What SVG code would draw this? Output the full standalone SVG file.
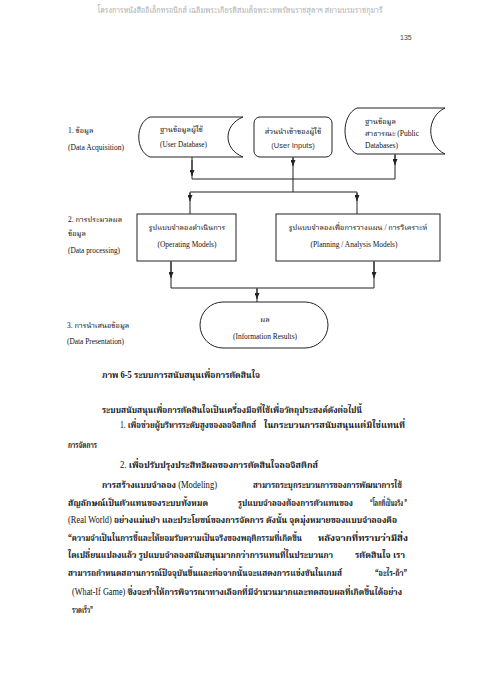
<svg xmlns="http://www.w3.org/2000/svg" width="480" height="679" viewBox="0 0 480 679" xml:space="preserve">
<style>
.s{fill:none;stroke:#222;stroke-width:1}
.t{font-family:"Liberation Serif","Noto Serif Thai","Noto Sans Thai",serif;fill:#111}
.d{font-size:7.5px}
.b{font-size:9.5px;font-weight:bold}
.n{font-weight:normal}
.c{text-anchor:middle}
.a{font-family:"Liberation Sans",sans-serif}
</style>
<defs>
<marker id="ah" markerUnits="userSpaceOnUse" markerWidth="6" markerHeight="5" refX="6" refY="2.5" orient="auto"><path d="M0,0 L6,2.5 L0,5 Z" fill="#222"/></marker>
</defs>
<rect width="480" height="679" fill="#fff"/>
<text class="t c" x="240" y="13" font-size="8" style="fill:#aaa" textLength="285" lengthAdjust="spacingAndGlyphs">โครงการหนังสืออิเล็กทรอนิกส์ เฉลิมพระเกียรติสมเด็จพระเทพรัตนราชสุดาฯ สยามบรมราชกุมารี</text>
<text class="a" x="400" y="40" font-size="7" fill="#444">135</text>

<g id="labels">
<text class="t d" x="68" y="133">1. ข้อมูล</text>
<text class="t d" x="68" y="150" textLength="56" lengthAdjust="spacingAndGlyphs">(Data Acquisition)</text>
<text class="t d" x="68" y="222">2. การประมวลผล</text>
<text class="t d" x="68" y="236">ข้อมูล</text>
<text class="t d" x="68" y="253" textLength="52" lengthAdjust="spacingAndGlyphs">(Data processing)</text>
<text class="t d" x="67" y="328">3. การนำเสนอข้อมูล</text>
<text class="t d" x="67" y="344" textLength="57" lengthAdjust="spacingAndGlyphs">(Data Presentation)</text>
</g>

<g id="n1">
<path class="s" d="M150,117 H243 C223,125 223,149 243,157 H150 C135,151 135,123 150,117 Z"/>
<text class="t d" x="160" y="132">ฐานข้อมูลผู้ใช้</text>
<text class="t d" x="160" y="147" textLength="47" lengthAdjust="spacingAndGlyphs">(User Database)</text>
</g>
<g id="n2">
<rect class="s" x="254" y="117" width="78" height="40" rx="6"/>
<text class="t d c" x="293" y="134">ส่วนนำเข้าของผู้ใช้</text>
<text class="a d c" x="293" y="148" fill="#333">(User Inputs)</text>
</g>
<g id="n3">
<path class="s" d="M357,108 H445 C426,117 426,145 445,154 H357 C341,147 341,115 357,108 Z"/>
<text class="t d" x="365" y="124">ฐานข้อมูล</text>
<text class="t d" x="365" y="136">สาธารณะ (Public</text>
<text class="t d" x="365" y="148">Databases)</text>
</g>
<g id="n4">
<rect class="s" x="137" y="214" width="99" height="47"/>
<text class="t d c" x="187" y="230">รูปแบบจำลองดำเนินการ</text>
<text class="t d c" x="187" y="247" textLength="59" lengthAdjust="spacingAndGlyphs">(Operating Models)</text>
</g>
<g id="n5">
<rect class="s" x="276" y="214" width="164" height="47"/>
<text class="t d c" x="358" y="230">รูปแบบจำลองเพื่อการวางแผน / การวิเคราะห์</text>
<text class="t d c" x="354" y="247" textLength="87" lengthAdjust="spacingAndGlyphs">(Planning / Analysis Models)</text>
</g>
<g id="n6">
<rect class="s" x="200" y="302" width="128" height="46" rx="23"/>
<text class="t d c" x="265" y="322">ผล</text>
<text class="t d c" x="265" y="339" textLength="64" lengthAdjust="spacingAndGlyphs">(Information Results)</text>
</g>

<g id="connectors">
<path class="s" d="M192,157 V179 M293,157 V192 M395,154 V179 M192,179 H395 M190,192 H357 M190,192 V214 M357,192 V214 M171,261 V288 M374,261 V288 M171,288 H374 M257,288 V302"/>
<path class="s" marker-end="url(#ah)" d="M192,160 V176"/>
<path class="s" marker-end="url(#ah)" d="M293,158 V166"/>
<path class="s" marker-end="url(#ah)" d="M395,155 V165"/>
<path class="s" marker-end="url(#ah)" d="M190,193 V201"/>
<path class="s" marker-end="url(#ah)" d="M357,193 V201"/>
<path class="s" marker-end="url(#ah)" d="M171,262 V278"/>
<path class="s" marker-end="url(#ah)" d="M374,262 V278"/>
<path class="s" marker-end="url(#ah)" d="M257,289 V299"/>
</g>

<g id="body">
<text class="t b" x="102" y="378" textLength="158" lengthAdjust="spacingAndGlyphs">ภาพ 6-5  ระบบการสนับสนุนเพื่อการตัดสินใจ</text>
<text class="t b" x="102" y="413" textLength="260" lengthAdjust="spacingAndGlyphs">ระบบสนับสนุนเพื่อการตัดสินใจเป็นเครื่องมือที่ใช้เพื่อวัตถุประสงค์ดังต่อไปนี้</text>
<text class="t b" x="120" y="428" textLength="136" lengthAdjust="spacingAndGlyphs"><tspan class="n">1.</tspan>  เพื่อช่วยผู้บริหารระดับสูงของลอจิสติกส์</text>
<text class="t b" x="264" y="428" textLength="141" lengthAdjust="spacingAndGlyphs">ในกระบวนการสนับสนุนแต่มิใช่แทนที่</text>
<text class="t b" x="68" y="448" textLength="29" lengthAdjust="spacingAndGlyphs">การจัดการ</text>
<text class="t b" x="120" y="468" textLength="198" lengthAdjust="spacingAndGlyphs"><tspan class="n">2.</tspan>  เพื่อปรับปรุงประสิทธิผลของการตัดสินใจลอจิสติกส์</text>
<text class="t b" x="102" y="488" textLength="115" lengthAdjust="spacingAndGlyphs">การสร้างแบบจำลอง  <tspan class="n">(Modeling)</tspan></text>
<text class="t b" x="253" y="488" textLength="149" lengthAdjust="spacingAndGlyphs">สามารถระบุกระบวนการของการพัฒนาการใช้</text>
<text class="t b" x="68" y="506" textLength="140" lengthAdjust="spacingAndGlyphs">สัญลักษณ์เป็นตัวแทนของระบบทั้งหมด</text>
<text class="t b" x="238" y="506" textLength="115" lengthAdjust="spacingAndGlyphs">รูปแบบจำลองต้องการตัวแทนของ</text>
<text class="t b" x="370" y="506" textLength="37" lengthAdjust="spacingAndGlyphs">“โลกที่เป็นจริง ”</text>
<text class="t b" x="68" y="523" textLength="329" lengthAdjust="spacingAndGlyphs"><tspan class="n">(Real  World)</tspan>  อย่างแม่นยำ และประโยชน์ของการจัดการ ดังนั้น จุดมุ่งหมายของแบบจำลองคือ</text>
<text class="t b" x="68" y="541" textLength="234" lengthAdjust="spacingAndGlyphs">“ความจำเป็นในการชี้และให้ยอมรับความเป็นจริงของพฤติกรรมที่เกิดขึ้น</text>
<text class="t b" x="318" y="541" textLength="90" lengthAdjust="spacingAndGlyphs">หลังจากที่ทราบว่ามีสิ่ง</text>
<text class="t b" x="68" y="558" textLength="265" lengthAdjust="spacingAndGlyphs">ใดเปลี่ยนแปลงแล้ว รูปแบบจำลองสนับสนุนมากกว่าการแทนที่ในประบวนกา</text>
<text class="t b" x="355" y="558" textLength="50" lengthAdjust="spacingAndGlyphs">รตัดสินใจ เรา</text>
<text class="t b" x="68" y="576" textLength="274" lengthAdjust="spacingAndGlyphs">สามารถกำหนดสถานการณ์ปัจจุบันขึ้นและต่อจากนั้นจะแสดงการแข่งขันในเกมส์</text>
<text class="t b" x="375" y="576" textLength="32" lengthAdjust="spacingAndGlyphs">“อะไร-ถ้า”</text>
<text class="t b" x="72" y="595" textLength="330" lengthAdjust="spacingAndGlyphs"><tspan class="n">(What-If  Game)</tspan> ซึ่งจะทำให้การพิจารณาทางเลือกที่มีจำนวนมากและทดสอบผลที่เกิดขึ้นได้อย่าง</text>
<text class="t b" x="72" y="613" textLength="21" lengthAdjust="spacingAndGlyphs">รวดเร็ว”</text>
</g>
</svg>
